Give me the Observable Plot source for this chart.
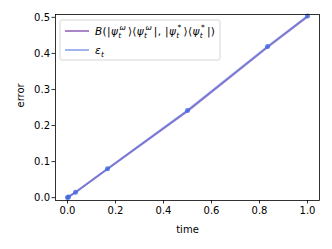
<!DOCTYPE html>
<html><head><meta charset="utf-8">
<script src="https://cdn.jsdelivr.net/npm/d3@7"></script>
<script src="https://cdn.jsdelivr.net/npm/@observablehq/plot@0.6"></script>
<style>body{margin:0;background:#fff}</style>
</head><body><div id="c"></div>
<script>
const time = [0, 0.004, 1/30, 1/6, 0.5, 5/6, 1];
const bures = [0, 0.002, 0.0148, 0.0795, 0.240, 0.417, 0.502];
const eps = [0, 0.002, 0.015, 0.080, 0.242, 0.419, 0.504];
const xTicks = [0, 0.2, 0.4, 0.6, 0.8, 1.0];
const yTicks = [0, 0.1, 0.2, 0.3, 0.4, 0.5];
const xLabel = "time";
const yLabel = "error";

const rows = time.map((t, i) => ({t, b: bures[i], e: eps[i]}));
const fmt = d3.format(".1f");

const chart = Plot.plot({
  width: 332, height: 249,
  marginLeft: 55, marginRight: 13, marginTop: 14, marginBottom: 49,
  x: {domain: [-0.05, 1.05]},
  y: {domain: [-0.008, 0.508]},
  style: {fontFamily: "DejaVu Sans", fontSize: "10px", color: "#000", background: "#fff"},
  marks: [
    Plot.lineY(rows, {x: "t", y: "b", stroke: "#9467bd", strokeOpacity: 0.8, strokeWidth: 2}),
    Plot.lineY(rows, {x: "t", y: "e", stroke: "#4169e1", strokeOpacity: 0.5, strokeWidth: 2}),
    Plot.dot(rows, {x: "t", y: "e", r: 2.5, fill: "#4169e1", fillOpacity: 0.8}),
    Plot.frame({stroke: "#000", strokeWidth: 0.8}),
    Plot.axisX(xTicks, {tickSize: 3.5, tickPadding: 3, tickFormat: fmt, label: null, fontSize: 10, stroke: "#000", strokeWidth: 0.8}),
    Plot.axisY(yTicks, {tickSize: 3.5, tickPadding: 2, tickFormat: fmt, label: null, fontSize: 10, stroke: "#000", strokeWidth: 0.8}),
    Plot.text([xLabel], {frameAnchor: "bottom", dy: 29, lineAnchor: "middle", fontSize: 10, fill: "#000"}),
    Plot.text([yLabel], {frameAnchor: "left", dx: -35, rotate: -90, lineAnchor: "middle", fontSize: 10, fill: "#000"})
  ]
});
document.getElementById("c").appendChild(chart);

// legend
const svg = d3.select(chart);
const g = svg.append("g").attr("font-family", "DejaVu Sans").attr("font-size", 10.5).attr("text-anchor", "start");
g.append("rect").attr("x", 60).attr("y", 20).attr("width", 160).attr("height", 40).attr("rx", 2)
  .attr("fill", "#fff").attr("fill-opacity", 0.8).attr("stroke", "#ccc").attr("stroke-width", 0.8);
g.append("line").attr("x1", 65).attr("x2", 89).attr("y1", 31).attr("y2", 31)
  .attr("stroke", "#9467bd").attr("stroke-opacity", 0.8).attr("stroke-width", 2);
g.append("line").attr("x1", 65).attr("x2", 89).attr("y1", 50).attr("y2", 50)
  .attr("stroke", "#4169e1").attr("stroke-opacity", 0.5).attr("stroke-width", 2);

function mathText(x, y, parts) {
  const t = g.append("text").attr("x", x).attr("y", y).attr("fill", "#000")
    .attr("text-anchor", "start").attr("letter-spacing", 0.35);
  for (const p of parts) {
    const s = t.append("tspan").text(p.s);
    if (p.italic) s.attr("font-style", "italic");
    if (p.size) s.attr("font-size", p.size);
    if (p.dy) s.attr("dy", p.dy);
    if (p.dx) s.attr("dx", p.dx);
  }
}
const psiPart = (sup, tail) => [
  {s: "ψ", italic: true},
  {s: "t", italic: true, size: 7.5, dy: 2.5},
  {s: sup, italic: sup !== "*", size: 7.5, dy: -7.5, dx: -2},
  {s: tail, dy: 5, dx: 1.8}
];
mathText(95, 35, [
  {s: "B", italic: true}, {s: "(|"},
  ...psiPart("ω", "⟩⟨"), ...psiPart("ω", "|, |"),
  ...psiPart("*", "⟩⟨"), ...psiPart("*", "|)")
]);
mathText(95, 54, [
  {s: "ε", italic: true},
  {s: "t", italic: true, size: 7.5, dy: 2.5}
]);
</script></body></html>
